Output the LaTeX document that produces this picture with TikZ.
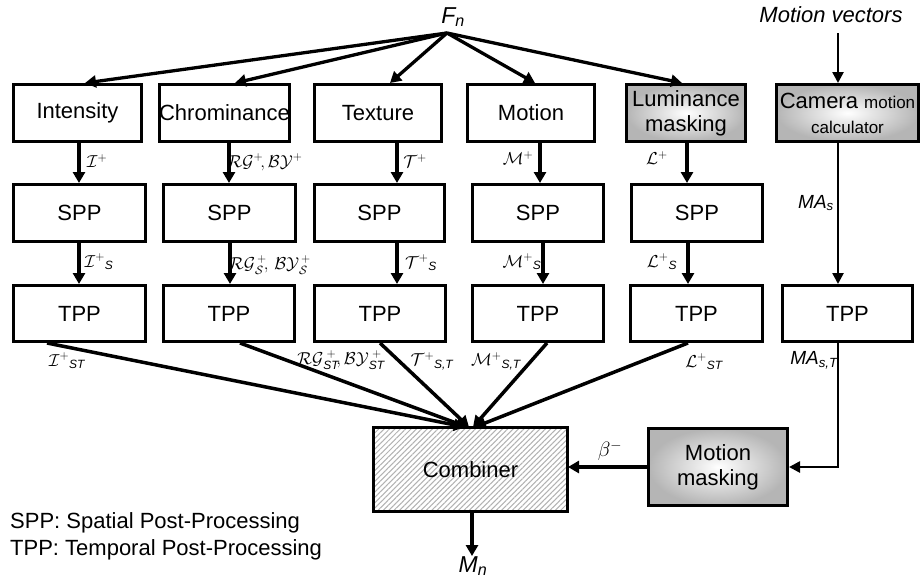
\documentclass[tikz,border=0pt]{standalone}
\usepackage{amsmath}
\usepackage{fontspec}
\setmainfont{Liberation Sans}
\usetikzlibrary{arrows.meta,patterns.meta}

\tikzset{
  blk/.style={draw, line width=3pt, inner sep=0pt, align=center,
    font=\fontsize{22}{25}\selectfont},
  glow/.style={blk, inner color=white, outer color=gray!58},
  arr/.style={line width=3.5pt, -{Triangle[length=11pt,width=12pt]}},
  fanarr/.style={line width=3.3pt, -{Triangle[length=11pt,width=12pt]}},
  thinarr/.style={line width=2.5pt, -{Triangle[length=11pt,width=11pt]}},
  lbl/.style={inner sep=0pt, font=\fontsize{17.28}{19}\selectfont},
  slbl/.style={inner sep=0pt, font=\fontsize{19}{21}\selectfont\itshape},
  big/.style={inner sep=0pt, font=\fontsize{22}{25}\selectfont},
}

\begin{document}
\begin{tikzpicture}[x=1pt, y=-1pt]
\useasboundingbox (0,0) rectangle (923,582);

% inputs
\node[big, font=\fontsize{23}{25}\selectfont\itshape] (fn) at (453,17) {F\textsubscript{n}};
\coordinate (fnsrc) at (447,33);
\node[big, font=\fontsize{22}{25}\selectfont\itshape] (mv) at (831,15) {Motion vectors};
\coordinate (mvsrc) at (838,33);

% feature extraction row
\node[blk, minimum width=128pt, minimum height=57pt] (int) at (77.5,113) {Intensity};
\node[blk, minimum width=128pt, minimum height=57pt] (chr) at (224.5,113) {Chrominance};
\node[blk, minimum width=127pt, minimum height=57pt] (tex) at (378,113) {Texture};
\node[blk, minimum width=127pt, minimum height=57pt] (mot) at (531,113) {Motion};
\node[glow, minimum width=119pt, minimum height=57pt] (lum) at (686,113) {Luminance\\masking};
\node[glow, minimum width=142pt, minimum height=57pt] (cam) at (847.5,113)
  {Camera {\fontsize{17}{20}\selectfont motion}\\{\fontsize{17}{20}\selectfont calculator}};

% spatial post-processing row
\node[blk, minimum width=132pt, minimum height=57pt] (s1) at (79.5,213) {SPP};
\node[blk, minimum width=132pt, minimum height=57pt] (s2) at (229.5,213) {SPP};
\node[blk, minimum width=130pt, minimum height=57pt] (s3) at (379.5,213) {SPP};
\node[blk, minimum width=131pt, minimum height=57pt] (s4) at (538,213) {SPP};
\node[blk, minimum width=131pt, minimum height=57pt] (s5) at (697,213) {SPP};

% temporal post-processing row
\node[blk, minimum width=132pt, minimum height=56pt] (t1) at (79.5,313.5) {TPP};
\node[blk, minimum width=131pt, minimum height=56pt] (t2) at (229,313.5) {TPP};
\node[blk, minimum width=131pt, minimum height=56pt] (t3) at (380,313.5) {TPP};
\node[blk, minimum width=131pt, minimum height=56pt] (t4) at (538,313.5) {TPP};
\node[blk, minimum width=132pt, minimum height=56pt] (t5) at (696.5,313.5) {TPP};
\node[blk, minimum width=130pt, minimum height=56pt] (t6) at (847.5,313.5) {TPP};

% fusion
\node[blk, minimum width=194pt, minimum height=84pt,
  pattern={Lines[angle=45,distance=3.8pt,line width=1pt]}, pattern color=gray!60]
  (comb) at (470.5,469.5) {Combiner};
\node[glow, minimum width=139pt, minimum height=77pt] (mm) at (718,467) {Motion\\masking};
\node[big, font=\fontsize{23}{25}\selectfont\itshape] (mn) at (473,566) {M\textsubscript{n}};

% legend
\node[big, anchor=west] (leg1) at (10,523) {SPP: Spatial Post-Processing};
\node[big, anchor=west] (leg2) at (10,550) {TPP: Temporal Post-Processing};

% fan-out of the frame
\draw[fanarr] (fnsrc) -- (int.north -| 85,0);
\draw[fanarr] (fnsrc) -- (chr.north -| 235,0);
\draw[fanarr] (fnsrc) -- (tex.north -| 390,0);
\draw[fanarr] (fnsrc) -- (mot.north -| 535,0);
\draw[fanarr] (fnsrc) -- (lum.north -| 682,0);
\draw[thinarr] (mvsrc) -- (cam.north -| 838,0);

% feature -> SPP
\draw[arr] (int.south -| 79,0) -- (s1.north -| 79,0);
\draw[arr] (chr.south -| 229,0) -- (s2.north -| 229,0);
\draw[arr] (tex.south -| 397,0) -- (s3.north -| 397,0);
\draw[arr] (mot.south -| 540,0) -- (s4.north -| 540,0);
\draw[arr] (lum.south -| 687,0) -- (s5.north -| 687,0);
\draw[thinarr] (cam.south -| 838,0) -- (t6.north -| 838,0);

% SPP -> TPP
\draw[arr] (s1.south -| 79,0) -- (t1.north -| 79,0);
\draw[arr] (s2.south -| 230,0) -- (t2.north -| 230,0);
\draw[arr] (s3.south -| 397,0) -- (t3.north -| 397,0);
\draw[arr] (s4.south -| 543,0) -- (t4.north -| 543,0);
\draw[arr] (s5.south -| 688,0) -- (t5.north -| 688,0);

% TPP -> combiner
\draw[arr] (t1.south -| 47,0) -- (comb.north -| 465,0);
\draw[arr] (t2.south -| 240,0) -- (comb.north -| 467,0);
\draw[arr] (t3.south -| 380,0) -- (comb.north -| 469,0);
\draw[arr] (t4.south -| 547,0) -- (comb.north -| 473,0);
\draw[arr] (t5.south -| 688,0) -- (comb.north -| 475,0);

% camera motion path
\draw[thinarr] (t6.south -| 838,0) |- (mm.east);
\draw[arr] (mm.west) -- (comb.east |- mm.west);
\draw[arr] (comb.south -| 472,0) -- (mn.north -| 472,0);

% signal labels
\node[lbl] (l11) at (97,161) {$\mathcal{I}^{+}$};
\node[lbl] (l12) at (265,162) {$\mathcal{RG}^{+}\!,\mathcal{BY}^{+}$};
\node[lbl] (l13) at (415,161) {$\mathcal{T}^{+}$};
\node[lbl] (l14) at (518,158) {$\mathcal{M}^{+}$};
\node[lbl] (l15) at (657,158) {$\mathcal{L}^{+}$};
\node[slbl] (l16) at (816,203) {MA\textsubscript{s}};

\node[lbl] (l21) at (99,262) {$\mathcal{I}^{+}{}_{\text{\itshape S}}$};
\node[lbl] (l22) at (270,265) {$\mathcal{RG}_{\mathcal{S}}^{\,+}\!,\,\mathcal{BY}_{\mathcal{S}}^{\,+}$};
\node[lbl] (l23) at (421,263) {$\mathcal{T}^{+}{}_{\text{\itshape S}}$};
\node[lbl] (l24) at (522,262) {$\mathcal{M}^{+}{}_{\text{\itshape S}}$};
\node[lbl] (l25) at (662,262) {$\mathcal{L}^{+}{}_{\text{\itshape S}}$};

\node[lbl] (l31) at (67,361) {$\mathcal{I}^{+}{}_{\text{\itshape ST}}$};
\node[lbl] (l32) at (341,360) {$\mathcal{RG}_{\text{\itshape ST}}^{\;+}\!,\mathcal{BY}_{\text{\itshape ST}}^{\;+}$};
\node[lbl] (l33) at (432,361) {$\mathcal{T}^{+}{}_{\text{\itshape S,T}}$};
\node[lbl] (l34) at (496,361) {$\mathcal{M}^{+}{}_{\text{\itshape S,T}}$};
\node[lbl] (l35) at (704,362) {$\mathcal{L}^{+}{}_{\text{\itshape ST}}$};
\node[slbl] (l36) at (814,360) {MA\textsubscript{s,T}};
\node[lbl, font=\fontsize{20.74}{23}\selectfont] (lb) at (610,451) {$\beta^{-}$};
\end{tikzpicture}
\end{document}
